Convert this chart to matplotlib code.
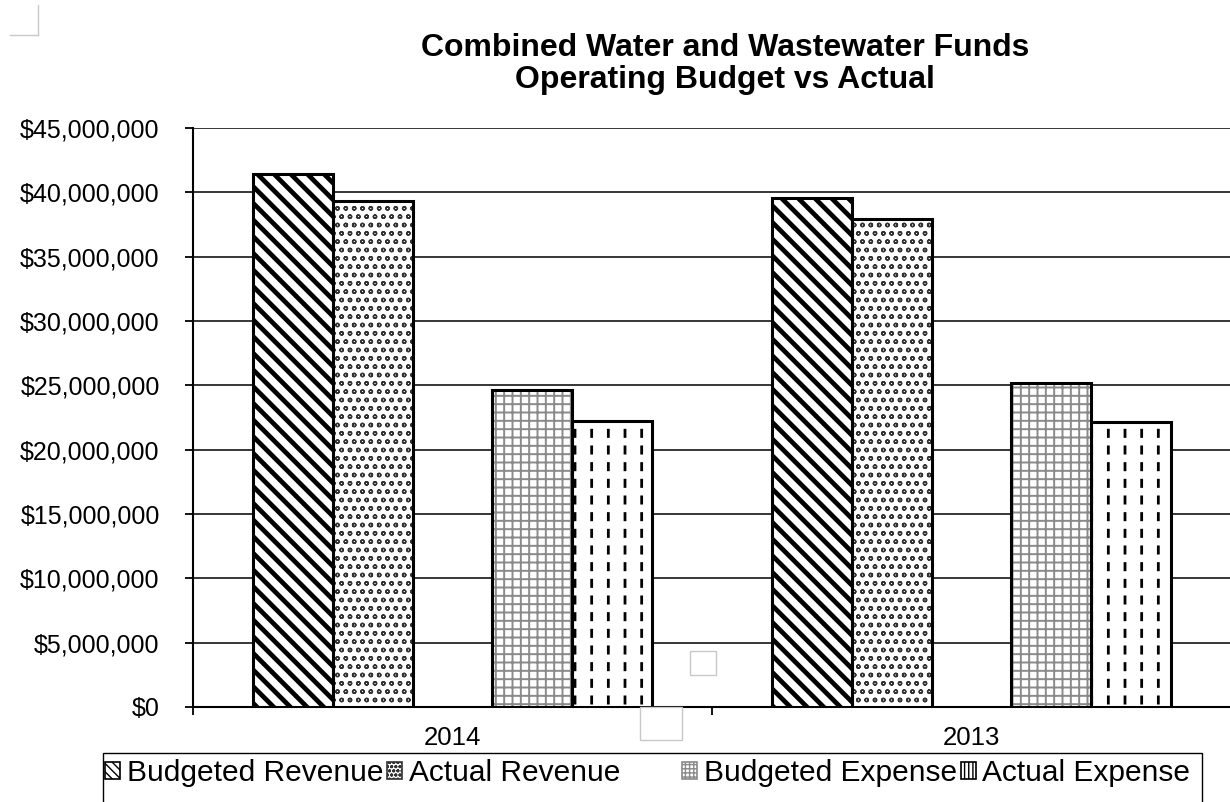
import numpy as np
import matplotlib
matplotlib.use("Agg")
import matplotlib.pyplot as plt
from matplotlib.patches import Rectangle
from matplotlib.lines import Line2D

plt.rcParams['font.family'] = ['Liberation Sans', 'DejaVu Sans']

years = ["2014", "2013"]
series = ["Budgeted Revenue", "Actual Revenue", "Budgeted Expense", "Actual Expense"]
budget_rev = [41400000, 39550000]
actual_rev = [39350000, 37900000]
budget_exp = [24650000, 25150000]
actual_exp = [22200000, 22150000]
values = [budget_rev, actual_rev, budget_exp, actual_exp]

# slot index within a category (slot 2 is an empty series, like the Excel source)
slots = [0, 1, 3, 4]
hatches = ["\\\\", "oo", "++", "|"]
legend_hatches = ["\\\\\\\\", "oooo", "++++", "||||"]
hatch_colors = ["black", "#333333", "#8a8a8a", "black"]
hatch_lws = [3.4, 1.0, 1.4, 2.0]


def set_hlw(patches, lw):
    for p in patches:
        if hasattr(p, "set_hatch_linewidth"):
            p.set_hatch_linewidth(lw)


fig = plt.figure(figsize=(12.3, 8.02), dpi=100)
ax = fig.add_axes([193 / 1230, 1 - 707 / 802, 1038 / 1230, 579 / 802])

x = np.arange(len(years))
width = 0.154
handles = []
for i, name in enumerate(series):
    pos = x + (slots[i] - 2) * width
    hb = ax.bar(pos, values[i], width, color="white", edgecolor=hatch_colors[i],
                linewidth=0, hatch=hatches[i], zorder=3)
    set_hlw(hb, hatch_lws[i])
    if i == 3:
        # break the vertical lines into dashes
        wb = ax.bar(pos, values[i], width, color="none", edgecolor="white",
                    linewidth=0, hatch="-", zorder=3.5)
        set_hlw(wb, 5.5)
    ax.bar(pos, values[i], width, color="none", edgecolor="black", linewidth=2.2, zorder=4)
    h = Rectangle((0, 0), 1, 1, facecolor="white", edgecolor=hatch_colors[i], linewidth=1.2,
                  hatch=legend_hatches[i])
    set_hlw([h], 1.2)
    handles.append(h)
    if i == 1:
        handles.append(Line2D([], [], color="none"))

ax.set_xlim(-0.5, 1.5)
ax.set_ylim(0, 45000000)
ax.set_yticks(np.arange(0, 45000001, 5000000))
ax.yaxis.set_major_formatter(matplotlib.ticker.FuncFormatter(lambda v, p: f"${v:,.0f}"))
ax.yaxis.grid(True, color="black", linewidth=1.1, zorder=1)
ax.set_axisbelow(True)

ax.set_xticks([-0.5, 0.5, 1.5])
ax.set_xticklabels([])
ax.set_xticks(x, minor=True)
ax.set_xticklabels(years, minor=True)
ax.tick_params(axis="x", which="minor", length=0, pad=14, labelsize=18.5)
ax.tick_params(axis="x", which="major", length=6, width=1.3, direction="out")
ax.tick_params(axis="y", length=6, width=1.3, direction="out", pad=18, labelsize=18)

for s in ["top", "right"]:
    ax.spines[s].set_visible(False)
ax.spines["left"].set_linewidth(1.5)
ax.spines["bottom"].set_linewidth(1.5)

fig.text(725 / 1230, 1 - 64 / 802, "Combined Water and Wastewater Funds\nOperating Budget vs Actual",
         ha="center", va="center", fontsize=23, fontweight="bold", linespacing=1.12)

# the empty third entry stands for the blank spacer series of the source chart
labels = ["Budgeted Revenue", "Actual Revenue", "    ", "Budgeted Expense", "Actual Expense"]
leg = fig.legend(handles, labels, loc="upper left", bbox_to_anchor=(98 / 1230, 1 - 752 / 802),
                 ncol=5, frameon=False, fontsize=21.5,
                 handlelength=0.5, handleheight=0.5, handletextpad=0.22, columnspacing=0.13,
                 borderpad=0.25, borderaxespad=0)

# legend frame runs off the bottom of the picture, as in the source
fig.add_artist(Rectangle((103 / 1230, -0.05), 1099 / 1230, 0.05 + 49 / 802,
                         transform=fig.transFigure, facecolor="none", edgecolor="black", lw=1.0))

# small stray frame artifacts from the source picture
fig.add_artist(Line2D([38 / 1230, 38 / 1230], [1 - 5 / 802, 1 - 35 / 802], color="#c8c8c8", lw=1))
fig.add_artist(Line2D([10 / 1230, 38 / 1230], [1 - 35 / 802, 1 - 35 / 802], color="#c8c8c8", lw=1))
fig.add_artist(Rectangle((690 / 1230, 1 - 675 / 802), 26 / 1230, 24 / 802, transform=fig.transFigure,
                         facecolor="white", edgecolor="#c8c8c8", lw=1, zorder=5))
fig.add_artist(Rectangle((640 / 1230, 1 - 740 / 802), 42 / 1230, 33 / 802, transform=fig.transFigure,
                         facecolor="white", edgecolor="#c8c8c8", lw=1, zorder=5))

fig.savefig("out.png", dpi=100)
